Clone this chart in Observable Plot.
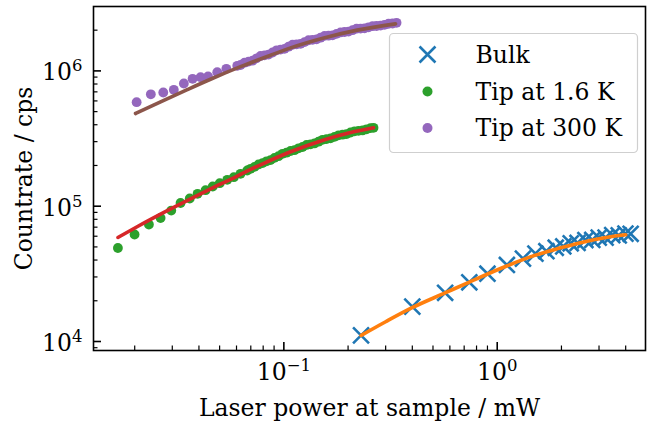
<!DOCTYPE html>
<html>
<head>
<meta charset="utf-8">
<script src="https://cdn.jsdelivr.net/npm/d3@7"></script>
<script src="https://cdn.jsdelivr.net/npm/@observablehq/plot@0.6"></script>
<style>
  html, body { margin: 0; padding: 0; background: #fff; }
  svg { display: block; }
</style>
</head>
<body>
<div id="chart"></div>
<script>
// ---------- data ----------
const bulkPower = [0.23, 0.40, 0.57, 0.74, 0.90, 1.11, 1.32, 1.51, 1.70, 1.88, 2.04, 2.21, 2.38, 2.59, 2.79, 2.99, 3.22, 3.46, 3.71, 3.99, 4.22];
const bulkRate  = [11100, 18100, 22900, 27400, 31700, 36800, 41000, 44600, 46500, 49300, 50400, 53200, 53500, 56200, 56300, 58600, 58600, 61100, 60900, 62700, 62500];

const bulkFitPower = [0.23, 0.30, 0.397, 0.5725, 0.736, 1.10, 1.50, 1.944, 2.40, 2.836, 3.40, 4.00];
const bulkFitRate  = [11080, 14000, 17700, 22950, 27400, 36000, 43300, 48800, 53300, 56600, 59500, 61500];

const tip16Power = [0.01668, 0.01997, 0.02331, 0.02644, 0.02967, 0.0328, 0.03622, 0.03941, 0.04296, 0.04643, 0.05007, 0.05429, 0.0583, 0.06266, 0.06737,
  0.06982, 0.07289, 0.0761, 0.07946, 0.08296, 0.08662, 0.09044, 0.09443, 0.09859, 0.1029, 0.1075, 0.1122, 0.1172, 0.1224, 0.1278, 0.1334,
  0.1392, 0.1454, 0.1518, 0.1585, 0.1655, 0.1728, 0.1804, 0.1884, 0.1967, 0.2054, 0.2145, 0.2239, 0.2338, 0.2441, 0.2548, 0.2632];
const tip16Rate = [49100, 61800, 73200, 81800, 92900, 105600, 114000, 123500, 131300, 139800, 147900, 156700, 163800, 173600, 183600,
  189000, 195200, 203500, 208200, 214700, 219000, 227500, 234200, 243800, 248600, 255900, 259500, 267900, 273900, 283500, 286800,
  291000, 299700, 309500, 313200, 317000, 325200, 334000, 337600, 341500, 350600, 357800, 360200, 363000, 370200, 377500, 379800];

const tip16FitPower = [0.01668, 0.02072, 0.02842, 0.04071, 0.04943, 0.05627, 0.06982, 0.08056, 0.1075, 0.1539, 0.2054, 0.2632];
const tip16FitRate  = [58700, 71060, 92670, 123540, 143470, 158110, 187100, 207500, 252400, 308700, 350400, 380300];

const tip300Power = [0.02042, 0.0238, 0.02722, 0.0305, 0.03399, 0.03735, 0.04071, 0.04413, 0.04874, 0.05377, 0.06047,
  0.06268, 0.06544, 0.06833, 0.07134, 0.07449, 0.07778, 0.08121, 0.08479, 0.08853, 0.09244, 0.0965, 0.10076, 0.1052, 0.10984,
  0.11469, 0.11975, 0.12503, 0.13055, 0.1363, 0.14232, 0.1486, 0.15515, 0.162, 0.16914, 0.1766, 0.18439, 0.19253, 0.20102,
  0.20989, 0.21915, 0.22881, 0.2389, 0.24945, 0.26045, 0.27194, 0.28394, 0.29646, 0.30954, 0.32319, 0.33745];
const tip300Rate = [587000, 671400, 692400, 724800, 807000, 874200, 898200, 909000, 978100, 1036000, 1090000,
  1105700, 1150000, 1171600, 1190000, 1239100, 1290000, 1301700, 1320000, 1367600, 1420000, 1436800, 1455000, 1509400, 1560000,
  1572300, 1585000, 1632300, 1685000, 1694500, 1710000, 1759200, 1815000, 1820100, 1830000, 1876800, 1925000, 1938500, 1950000,
  1998800, 2050000, 2054000, 2065000, 2100000, 2140000, 2146900, 2160000, 2191200, 2230000, 2240200, 2267100];

const tip300FitPower = [0.02018, 0.02644, 0.03527, 0.04533, 0.06266, 0.08665, 0.1075, 0.1539, 0.2208, 0.3338];
const tip300FitRate  = [484300, 591300, 727500, 867600, 1074000, 1305000, 1479000, 1751000, 2001000, 2227000];

// axis limits and ticks
const xDomain = [0.01282, 4.954];
const yDomain = [8580, 2.992e6];
const xMajor = [0.1, 1];
const xMinor = [0.02, 0.03, 0.04, 0.05, 0.06, 0.07, 0.08, 0.09, 0.2, 0.3, 0.4, 0.5, 0.6, 0.7, 0.8, 0.9, 2, 3, 4];
const yMajor = [1e4, 1e5, 1e6];
const yMinor = [9e3, 2e4, 3e4, 4e4, 5e4, 6e4, 7e4, 8e4, 9e4, 2e5, 3e5, 4e5, 5e5, 6e5, 7e5, 8e5, 9e5, 2e6];

const seriesNames = ["Bulk", "Tip at 1.6 K", "Tip at 300 K"];
const xLabel = "Laser power at sample / mW";
const yLabel = "Countrate / cps";

// ---------- layout ----------
const W = 647, H = 422;
const mL = 93, mR = 2, mT = 6, mB = 72;
const innerW = W - mL - mR, innerH = H - mT - mB;
const FS = 23.5;
const C = {blue: "#1f77b4", orange: "#ff7f0e", green: "#2ca02c", red: "#d62728", purple: "#9467bd", brown: "#8c564b"};

const zip = (xs, ys) => xs.map((x, i) => ({x, y: ys[i]}));
const bulk = zip(bulkPower, bulkRate);
const bulkFit = zip(bulkFitPower, bulkFitRate);
const tip16 = zip(tip16Power, tip16Rate);
const tip16Fit = zip(tip16FitPower, tip16FitRate);
const tip300 = zip(tip300Power, tip300Rate);
const tip300Fit = zip(tip300FitPower, tip300FitRate);

const expLabel = d => "10^" + String(Math.round(Math.log10(d))).replace("-", "\u2212");

const majorLen = 8, minorLen = 4.5;
const legX = 389, legR = 637, legT = 33, legB = 152;
const legMarkX = 427, legTextX = 475, legRows = [54, 91, 127.5];

const chart = Plot.plot({
  width: W, height: H,
  marginLeft: mL, marginRight: mR, marginTop: mT, marginBottom: mB,
  style: {fontFamily: "'DejaVu Serif', serif", fontSize: FS + "px", background: "white", color: "black", overflow: "visible"},
  x: {type: "log", domain: xDomain},
  y: {type: "log", domain: yDomain},
  marks: [
    Plot.dot(bulk, {x: "x", y: "y", symbol: "times", r: 7.3, stroke: C.blue, strokeWidth: 2.6}),
    Plot.line(bulkFit, {x: "x", y: "y", stroke: C.orange, strokeWidth: 3.6, curve: "monotone-x"}),
    Plot.dot(tip16, {x: "x", y: "y", r: 4.9, fill: C.green, stroke: null}),
    Plot.line(tip16Fit, {x: "x", y: "y", stroke: C.red, strokeWidth: 3.6, curve: "monotone-x"}),
    Plot.dot(tip300, {x: "x", y: "y", r: 4.9, fill: C.purple, stroke: null}),
    Plot.line(tip300Fit, {x: "x", y: "y", stroke: C.brown, strokeWidth: 3.6, curve: "monotone-x"}),

    // inward ticks
    Plot.tickX(xMajor, {x: d => d, insetTop: innerH - majorLen, stroke: "black", strokeWidth: 1.6}),
    Plot.tickX(xMinor, {x: d => d, insetTop: innerH - minorLen, stroke: "black", strokeWidth: 1.2}),
    Plot.tickY(yMajor, {y: d => d, insetRight: innerW - majorLen, stroke: "black", strokeWidth: 1.6}),
    Plot.tickY(yMinor, {y: d => d, insetRight: innerW - minorLen, stroke: "black", strokeWidth: 1.2}),

    Plot.axisX(xMajor, {tickSize: 0, tickPadding: 12.6, tickFormat: expLabel, label: null, fontSize: FS}),
    Plot.axisY(yMajor, {tickSize: 0, tickPadding: 11, dy: 2, tickFormat: expLabel, label: null, fontSize: FS}),

    Plot.frame({stroke: "black", strokeWidth: 1.6}),

    Plot.text([xLabel], {text: d => d, frameAnchor: "bottom", textAnchor: "middle", lineAnchor: "middle", dy: 57.5, fontSize: FS}),
    Plot.text([yLabel], {text: d => d, frameAnchor: "left", textAnchor: "middle", lineAnchor: "middle", rotate: -90, dx: -68.7, fontSize: FS}),

    // legend
    Plot.frame({fill: "white", fillOpacity: 0.8, stroke: "#cfcfcf", strokeWidth: 1.2, rx: 4,
      insetLeft: legX - mL, insetRight: (W - mR) - legR, insetTop: legT - mT, insetBottom: (H - mB) - legB}),
    Plot.dot([seriesNames[0]], {frameAnchor: "top-left", dx: legMarkX - mL, dy: legRows[0] - mT, symbol: "times", r: 7.3, stroke: C.blue, strokeWidth: 2.6}),
    Plot.dot([seriesNames[1]], {frameAnchor: "top-left", dx: legMarkX - mL, dy: legRows[1] - mT, r: 5, fill: C.green, stroke: null}),
    Plot.dot([seriesNames[2]], {frameAnchor: "top-left", dx: legMarkX - mL, dy: legRows[2] - mT, r: 5, fill: C.purple, stroke: null}),
    ...seriesNames.map((name, i) => Plot.text([name], {text: d => d, frameAnchor: "top-left", textAnchor: "start", lineAnchor: "middle",
      dx: legTextX - mL, dy: legRows[i] - mT + 0.5, fontSize: FS}))
  ]
});

// superscript exponents in tick labels
d3.select(chart).selectAll('g[aria-label$="tick label"] text').each(function () {
  const parts = this.textContent.split("^");
  if (parts.length === 2) {
    const t = d3.select(this);
    t.text(parts[0]);
    t.append("tspan").attr("dy", "-9").attr("font-size", "16.5px").text(parts[1]);
  }
});

document.getElementById("chart").appendChild(chart);
</script>
</body>
</html>
